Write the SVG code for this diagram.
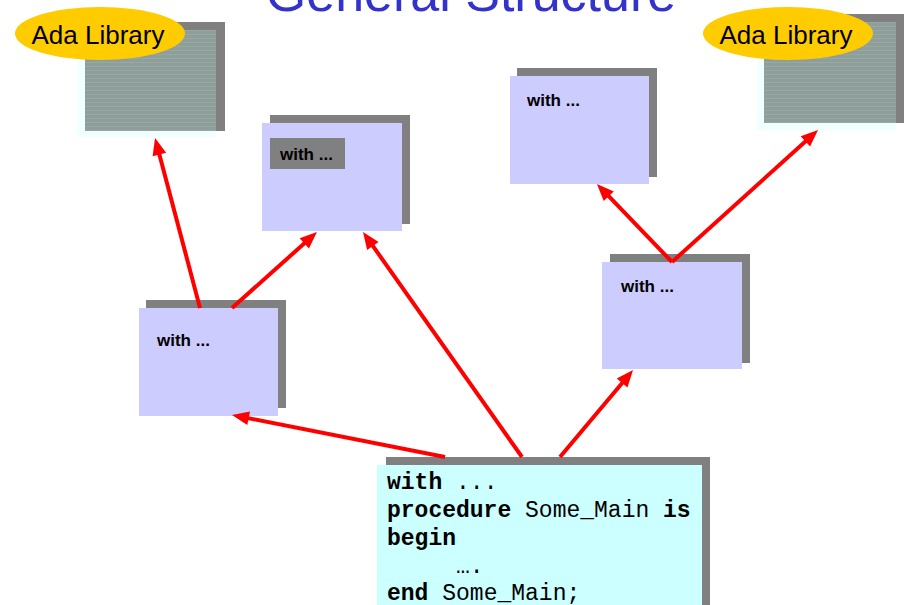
<svg xmlns="http://www.w3.org/2000/svg" width="907" height="605" viewBox="0 0 907 605">
  <style>
    .shadow { fill: #808080; }
    .unit { fill: #ccccff; }
    .frame { fill: #f0ffff; }
    .tex { fill: url(#stripes); }
    .badge { fill: #ffcc00; }
    .badge-text { font-family: "Liberation Sans", Arial, sans-serif; font-size: 26px; fill: #000; }
    .with { font-family: "Liberation Sans", Arial, sans-serif; font-size: 17px; font-weight: bold; fill: #000; }
    .code { font-family: "Liberation Mono", "Courier New", monospace; font-size: 23px; fill: #000; }
    .code .kw { font-weight: bold; }
    .title { font-family: "Liberation Sans", Arial, sans-serif; font-size: 52px; fill: #3333cc; }
    .link { stroke: #ff0000; stroke-width: 4; fill: none; marker-end: url(#head); }
  </style>
  <defs>
    <pattern id="stripes" width="4" height="4" patternUnits="userSpaceOnUse">
      <rect width="4" height="4" fill="#8e9e9a"/>
      <rect y="2" width="4" height="1" fill="#98a8a4"/>
    </pattern>
    <marker id="head" markerUnits="userSpaceOnUse" markerWidth="17" markerHeight="14" refX="7" refY="7" orient="auto" overflow="visible">
      <path d="M0,0 L17,7 L0,14 z" fill="#ff0000"/>
    </marker>
  </defs>

  <text class="title" x="471" y="11" text-anchor="middle">General Structure</text>

  <!-- library on the left -->
  <g id="lib-left">
    <rect class="shadow" x="85" y="22" width="140" height="109"/>
    <rect class="frame" x="77" y="30" width="139" height="107"/>
    <rect class="tex" x="85" y="30" width="131" height="101"/>
    <ellipse class="badge" cx="100" cy="33.5" rx="85" ry="26.5"/>
    <text class="badge-text" x="98" y="44" text-anchor="middle">Ada Library</text>
  </g>

  <!-- library on the right -->
  <g id="lib-right">
    <rect class="shadow" x="764" y="14" width="140" height="109"/>
    <rect class="frame" x="757" y="22" width="139" height="108"/>
    <rect class="tex" x="764" y="22" width="132" height="101"/>
    <ellipse class="badge" cx="788" cy="33.5" rx="85" ry="26.5"/>
    <text class="badge-text" x="786" y="44" text-anchor="middle">Ada Library</text>
  </g>

  <g id="unit-upper-mid">
    <rect class="shadow" x="270" y="115" width="140" height="109"/>
    <rect class="unit" x="262" y="123" width="140" height="108"/>
    <rect class="shadow" x="270" y="138" width="75" height="31"/>
    <text class="with" x="280" y="160">with ...</text>
  </g>

  <g id="unit-upper-right">
    <rect class="shadow" x="517" y="68" width="140" height="109"/>
    <rect class="unit" x="510" y="76" width="139" height="108"/>
    <text class="with" x="527" y="106">with ...</text>
  </g>

  <g id="unit-lower-left">
    <rect class="shadow" x="146" y="300" width="140" height="108"/>
    <rect class="unit" x="139" y="308" width="139" height="108"/>
    <text class="with" x="157" y="346">with ...</text>
  </g>

  <g id="unit-lower-right">
    <rect class="shadow" x="610" y="254" width="140" height="109"/>
    <rect class="unit" x="602" y="262" width="140" height="107"/>
    <text class="with" x="621" y="292">with ...</text>
  </g>

  <g id="main">
    <rect class="shadow" x="386" y="457" width="324" height="160"/>
    <rect x="377" y="465" width="325" height="150" fill="#ccffff"/>
    <text class="code" x="387" y="489"><tspan class="kw">with</tspan> ...</text>
    <text class="code" x="387" y="517"><tspan class="kw">procedure</tspan> Some_Main <tspan class="kw">is</tspan></text>
    <text class="code" x="387" y="545"><tspan class="kw">begin</tspan></text>
    <text class="code" x="456" y="573">….</text>
    <text class="code" x="387" y="600"><tspan class="kw">end</tspan> Some_Main;</text>
  </g>

  <g id="connectors">
    <line class="link" x1="200" y1="308" x2="157.6" y2="147.7"/>
    <line class="link" x1="232" y1="308" x2="309.5" y2="238.7"/>
    <line class="link" x1="522" y1="457" x2="368.8" y2="240.2"/>
    <line class="link" x1="445" y1="457" x2="241.8" y2="416.9"/>
    <line class="link" x1="560" y1="457" x2="626.6" y2="377.7"/>
    <line class="link" x1="672" y1="262" x2="603.9" y2="191.2"/>
    <line class="link" x1="672" y1="262" x2="810.6" y2="136.7"/>
  </g>
</svg>
